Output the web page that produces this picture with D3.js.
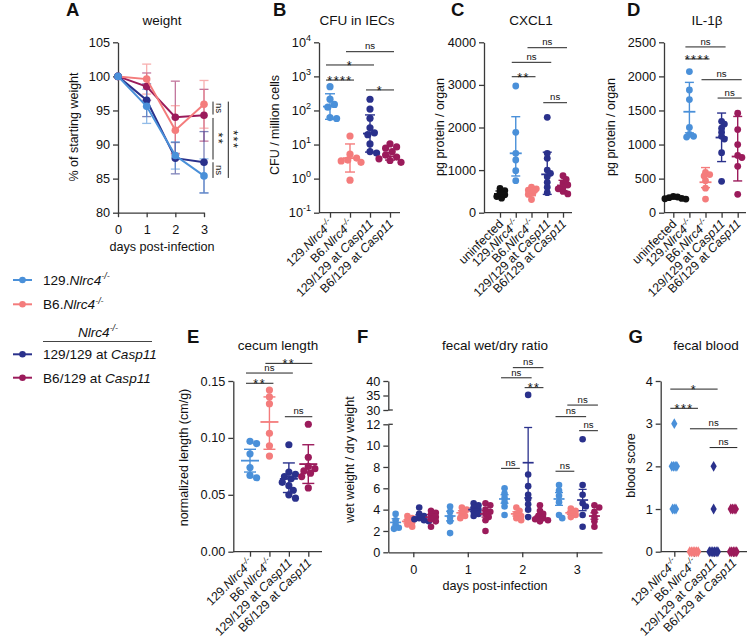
<!DOCTYPE html>
<html><head><meta charset="utf-8">
<script src="https://cdn.jsdelivr.net/npm/d3@7/dist/d3.min.js"></script>
<style>
html,body{margin:0;padding:0;background:#fff;}
svg text{font-family:Arial,"Liberation Sans",Helvetica,sans-serif;fill:#111;}
</style></head><body>
<svg id="fig" width="749" height="644" xmlns="http://www.w3.org/2000/svg"></svg>
<script>
// ================= DATA =================
const groupLabels = ["129.Nlrc4-/-", "B6.Nlrc4-/-", "129/129 at Casp11", "B6/129 at Casp11"];
const cytoLabels = ["uninfected", "129.Nlrc4-/-", "B6.Nlrc4-/-", "129/129 at Casp11", "B6/129 at Casp11"];
const groupColors = ["#4a90d9", "#f47c7c", "#2a318c", "#9b1b5b"];
const cytoColors = ["#111111", "#4a90d9", "#f47c7c", "#2a318c", "#9b1b5b"];

// A: weight (% of starting weight), mean and error per day
const weightDays = [0, 1, 2, 3];
const weight129 = [100, 95.6, 88.4, 85.4];
const weightB6 = [100, 99.6, 92.1, 95.9];
const weight129129 = [100, 96.5, 88.0, 87.4];
const weightB6129 = [100, 98.5, 94.0, 94.3];
const weightErr129 = [0, 2.5, 2.0, 2.5];
const weightErrB6 = [0, 2.2, 3.6, 3.5];
const weightErr129129 = [0, 2.4, 2.3, 4.5];
const weightErrB6129 = [0, 2.0, 5.3, 3.8];
const weightTicks = [80, 85, 90, 95, 100, 105];
const weightSig = [[96.3, 94.4, "ns"], [93.9, 87.8, "**"], [87.4, 85.1, "ns"], [96.3, 85.1, "***"]];

// B: CFU in IECs
const cfu129 = [500, 215, 150, 125, 62, 58];
const cfuB6 = [17.8, 5.2, 4.0, 3.5, 3.3, 3.0, 0.9];
const cfu129129 = [213, 110, 59, 31, 22, 19.5, 10.4, 6.2, 5.6];
const cfuB6129 = [10.4, 8.5, 7.8, 6.2, 4.9, 4.3, 3.8, 3.4, 3.0];
const cfuCenter = [130, 4.0, 21, 4.5];
const cfuLow = [55, 1.56, 6, 3.5];
const cfuHigh = [309, 10.4, 74, 5.8];
const cfuTicks = [0.1, 1, 10, 100, 1000, 10000];
const cfuSig = [[0, 1, "****", 780], [0, 2, "*", 2160], [1, 3, "ns", 5300], [2, 3, "*", 400]];

// C: CXCL1
const cxclUninf = [570, 520, 470, 420, 380, 340];
const cxcl129 = [2974, 1887, 1394, 1237, 986, 751];
const cxclB6 = [600, 560, 530, 470, 430, 310];
const cxcl129129 = [2240, 1394, 1277, 1000, 925, 845, 714, 600, 470];
const cxclB6129 = [870, 780, 700, 650, 600, 560, 500, 440];
const cxclCenter = [440, 1394, 480, 900, 640];
const cxclLow = [370, 862, 400, 430, 520];
const cxclHigh = [510, 2254, 570, 1420, 760];
const cxclTicks = [0, 1000, 2000, 3000, 4000];
const cxclSig = [[1, 2, "**", 3192], [1, 3, "ns", 3530], [2, 4, "ns", 3873], [3, 4, "ns", 2582]];

// D: IL-1beta
const il1Uninf = [240, 230, 220, 210, 205, 200];
const il1129 = [2070, 1800, 1660, 1250, 1150, 1120, 1110];
const il1B6 = [590, 560, 540, 470, 360, 200];
const il1129129 = [1340, 1300, 1240, 1180, 1120, 1080, 880, 460];
const il1B6129 = [1460, 1220, 1000, 840, 810, 680, 270];
const il1Center = [220, 1481, 447, 1103, 824];
const il1Low = [200, 1172, 368, 750, 466];
const il1High = [240, 1912, 662, 1462, 1412];
const il1Ticks = [0, 500, 1000, 1500, 2000, 2500];
const il1Sig = [[1, 3, "ns", 2432], [1, 2, "****", 2256], [2, 4, "ns", 1951], [3, 4, "ns", 1682]];

// E: cecum length
const cecum129 = [0.097, 0.095, 0.086, 0.074, 0.067, 0.065];
const cecumB6 = [0.142, 0.136, 0.130, 0.104, 0.093, 0.084];
const cecum129129 = [0.094, 0.070, 0.068, 0.066, 0.064, 0.061, 0.058, 0.054, 0.050, 0.047];
const cecumB6129 = [0.112, 0.083, 0.075, 0.073, 0.071, 0.069, 0.066, 0.056];
const cecumCenter = [0.080, 0.114, 0.064, 0.077];
const cecumLow = [0.070, 0.090, 0.052, 0.060];
const cecumHigh = [0.090, 0.136, 0.078, 0.094];
const cecumTicks = [0, 0.05, 0.10, 0.15];
const cecumSig = [[0, 1, "**", 0.148], [0, 2, "ns", 0.157], [1, 3, "**", 0.1655], [2, 3, "ns", 0.1186]];

// F: fecal wet/dry ratio, per day: [129, B6, 129/129, B6/129]
const fecalDays = [0, 1, 2, 3];
const fecalDay0 = [[3.6, 3.0, 2.6, 2.3, 2.2], [3.4, 3.2, 3.0, 2.8, 2.6, 2.4], [4.2, 3.6, 3.4, 3.2, 3.1, 3.0, 2.9], [3.9, 3.7, 3.5, 3.3, 3.1, 2.9, 2.4]];
const fecalDay1 = [[4.3, 3.8, 3.3, 2.9, 1.8], [4.2, 4.0, 3.7, 3.4, 3.2], [4.6, 4.4, 4.2, 4.0, 3.8, 3.6, 3.4], [4.6, 4.4, 4.0, 3.8, 3.6, 3.3, 3.0, 2.0]];
const fecalDay2 = [[6.0, 5.5, 5.1, 4.7, 4.3, 3.5], [4.2, 3.9, 3.6, 3.4, 3.2, 3.0], [35.2, 7.3, 6.2, 5.4, 5.0, 4.5, 4.0, 3.3], [4.4, 3.9, 3.6, 3.4, 3.2, 3.1, 3.0, 2.9]];
const fecalDay3 = [[6.3, 5.8, 5.3, 4.7, 3.5, 3.2], [4.1, 3.9, 3.7, 3.5, 3.3], [10.6, 6.3, 5.4, 4.6, 4.3, 3.5, 2.4], [4.4, 4.2, 3.8, 3.3, 2.9, 2.4]];
const fecalCenter = [[2.8, 2.9, 3.3, 3.3], [3.4, 3.7, 4.0, 3.6], [5.0, 3.6, 8.4, 3.4], [5.0, 3.7, 4.9, 3.4]];
const fecalErr = [[0.35, 0.15, 0.2, 0.25], [0.45, 0.2, 0.15, 0.3], [0.4, 0.2, 3.3, 0.2], [0.6, 0.15, 1.0, 0.3]];
const fecalTicksLow = [0, 2, 4, 6, 8, 10, 12];
const fecalTicksHigh = [30, 35, 40];
// [day, groupA, groupB, label, level]
const fecalSig = [[2, 0, 1, "ns", 7.87], [2, 0, 2, "ns", 41.1], [2, 1, 3, "ns", 44.6], [2, 2, 3, "**", 37.7],
                  [3, 0, 1, "ns", 7.6], [3, 0, 2, "ns", 27.7], [3, 1, 3, "ns", 31.7], [3, 2, 3, "ns", 11.4]];

// G: fecal blood score
const blood129 = [3, 2, 2, 2, 2, 1, 1, 1];
const bloodB6 = [0, 0, 0, 0, 0, 0];
const blood129129 = [2, 1, 0, 0, 0, 0, 0, 0];
const bloodB6129 = [1, 1, 1, 1, 0, 0, 0, 0, 0];
const bloodTicks = [0, 1, 2, 3, 4];
const bloodSig = [[0, 2, "*", 3.81], [0, 1, "***", 3.36], [1, 3, "ns", 2.88], [2, 3, "ns", 2.44]];

// ================= DRAWING =================
const svg = d3.select("#fig");
const AXC = "#3a3a3a";
const TICKFS = 12.7;

function rich(t, str, fs) {
  const parts = str.split(/(Nlrc4|Casp11|-\/-)/).filter(s => s.length);
  let shift = 0;
  parts.forEach(p => {
    const s = t.append("tspan").text(p);
    if (p === "Nlrc4" || p === "Casp11" || p === "-/-") s.attr("font-style", "italic");
    if (p === "-/-") { s.attr("font-size", fs * 0.66).attr("dy", -fs * 0.42); shift = fs * 0.42; }
    else if (shift) { s.attr("dy", shift); shift = 0; }
  });
}
function styleAxis(g) {
  g.selectAll("path, line").attr("stroke", AXC).attr("stroke-width", 1.3);
  g.selectAll("text").attr("font-size", TICKFS).attr("fill", "#111");
}
function letter(L, x, y) {
  svg.append("text").attr("x", x).attr("y", y).attr("font-size", 18.5).attr("font-weight", "bold").text(L);
}
function title(t, x, y) {
  svg.append("text").attr("x", x).attr("y", y).attr("text-anchor", "middle").attr("font-size", 13.5).text(t);
}
function ylabel(t, x, yc) {
  svg.append("text").attr("transform", `translate(${x},${yc}) rotate(-90)`).attr("text-anchor", "middle").attr("font-size", 12.5).text(t);
}
function bracket(x1, x2, yy, lab, ext) {
  ext = ext === undefined ? 4 : ext;
  svg.append("line").attr("x1", x1 - ext).attr("x2", x2 + ext).attr("y1", yy).attr("y2", yy)
    .attr("stroke", "#222").attr("stroke-width", 1);
  const stars = lab.indexOf("*") >= 0;
  svg.append("text").attr("x", (x1 + x2) / 2).attr("y", stars ? yy + 4.8 : yy - 2.3)
    .attr("text-anchor", "middle").attr("font-size", stars ? 12.5 : 9.6)
    .attr("letter-spacing", stars ? 1.5 : 0).text(lab);
}
function swarm(values, yf, cx, minDist, step) {
  const placed = [];
  const arr = values.map(v => ({ v: v, y: yf(v) })).sort((a, b) => a.y - b.y);
  arr.forEach(p => {
    for (let k = 0; k < 60; k++) {
      const off = k === 0 ? 0 : (k % 2 ? 1 : -1) * Math.ceil(k / 2) * step;
      const xx = cx + off;
      if (placed.every(q => Math.hypot(q.x - xx, q.y - p.y) >= minDist)) { p.x = xx; break; }
    }
    if (p.x === undefined) p.x = cx;
    placed.push(p);
  });
  return placed;
}
function stack(values, yf, cx, sp) {
  const out = [];
  const byVal = d3.group(values, v => v);
  byVal.forEach((arr, v) => {
    arr.forEach((vv, k) => out.push({ v: vv, y: yf(vv), x: cx + (k - (arr.length - 1) / 2) * sp }));
  });
  return out;
}
function errorBar(cx, yc, ylo, yhi, col, meanHW, capHW, w) {
  const g = svg.append("g").attr("stroke", col).attr("stroke-width", w || 1.4);
  g.append("line").attr("x1", cx).attr("x2", cx).attr("y1", ylo).attr("y2", yhi);
  g.append("line").attr("x1", cx - capHW).attr("x2", cx + capHW).attr("y1", ylo).attr("y2", ylo);
  g.append("line").attr("x1", cx - capHW).attr("x2", cx + capHW).attr("y1", yhi).attr("y2", yhi);
  g.append("line").attr("x1", cx - meanHW).attr("x2", cx + meanHW).attr("y1", yc).attr("y2", yc).attr("stroke-width", (w || 1.4) + 0.4);
}

function dotPanel(o) {
  const x = d3.scalePoint().domain(o.cats).range(o.catRange);
  const y = o.y;
  const yb = y.range()[0];
  const ya = d3.axisLeft(y).tickValues(o.ticks).tickSize(5).tickPadding(3).tickSizeOuter(0);
  if (o.fmt) ya.tickFormat(o.fmt);
  const gy = svg.append("g").attr("transform", `translate(${o.axisX},0)`).call(ya);
  styleAxis(gy);
  if (o.log) {
    gy.selectAll(".tick text").each(function (d) {
      const t = d3.select(this); t.text("10");
      t.append("tspan").attr("font-size", 9).attr("dy", -6).text(String(Math.round(Math.log10(d))));
    });
  }
  svg.append("line").attr("x1", o.axisX).attr("x2", o.axisEnd).attr("y1", yb).attr("y2", yb)
    .attr("stroke", AXC).attr("stroke-width", 1.3);
  const gx = svg.append("g").attr("transform", `translate(0,${yb})`)
    .call(d3.axisBottom(x).tickSize(5).tickFormat(""));
  gx.select(".domain").remove();
  styleAxis(gx);
  o.cats.forEach(c => {
    const t = svg.append("text").attr("transform", `translate(${x(c) + 4},${yb + 12}) rotate(-45)`)
      .attr("text-anchor", "end").attr("font-size", 12.3);
    rich(t, c, 12.3);
  });
  o.cats.forEach((c, i) => {
    const cx = x(c), col = o.colors[i];
    const pts = o.stack ? stack(o.points[i], y, cx, o.stack)
      : swarm(o.points[i], y, cx, o.minDist || 6.5, o.step || 2.5);
    if (o.diamond) {
      svg.append("g").selectAll("path").data(pts).join("path")
        .attr("transform", d => `translate(${d.x},${d.y})`)
        .attr("d", d3.symbol(d3.symbolDiamond, 34)).attr("fill", col);
    } else {
      svg.append("g").selectAll("circle").data(pts).join("circle")
        .attr("cx", d => d.x).attr("cy", d => d.y).attr("r", o.r || 3.6).attr("fill", col);
    }
    if (o.centers) errorBar(cx, y(o.centers[i]), y(o.lows[i]), y(o.highs[i]), col, o.meanHW || 7, o.capHW || 5);
  });
  o.sig.forEach(s => bracket(x(o.cats[s[0]]), x(o.cats[s[1]]), y(s[3]), s[2]));
  letter(o.letter[0], o.letter[1], o.letter[2]);
  title(o.title[0], o.title[1], o.title[2]);
  ylabel(o.ylab[0], o.ylab[1], o.ylab[2]);
}

// ---------- Panel A ----------
(function () {
  const x = d3.scaleLinear().domain([0, 3]).range([118, 204]);
  const y = d3.scaleLinear().domain([80, 105]).range([212.7, 42.3]);
  const gy = svg.append("g").attr("transform", "translate(118,0)")
    .call(d3.axisLeft(y).tickValues(weightTicks).tickSize(5).tickPadding(3).tickSizeOuter(0));
  styleAxis(gy);
  const gx = svg.append("g").attr("transform", "translate(0,212.7)")
    .call(d3.axisBottom(x).tickValues(weightDays).tickFormat(d3.format("d")).tickSize(4.5).tickPadding(8).tickSizeOuter(0));
  styleAxis(gx);
  const means = [weight129, weightB6, weight129129, weightB6129];
  const errs = [weightErr129, weightErrB6, weightErr129129, weightErrB6129];
  const order = [3, 1, 2, 0];
  order.forEach(i => {
    const col = groupColors[i];
    weightDays.forEach((d, k) => {
      if (errs[i][k] > 0) {
        const g = svg.append("g").attr("stroke", col).attr("stroke-width", 1.3).attr("opacity", 0.6);
        const cx = x(d), lo = y(means[i][k] - errs[i][k]), hi = y(means[i][k] + errs[i][k]);
        g.append("line").attr("x1", cx).attr("x2", cx).attr("y1", lo).attr("y2", hi);
        g.append("line").attr("x1", cx - 4.5).attr("x2", cx + 4.5).attr("y1", lo).attr("y2", lo);
        g.append("line").attr("x1", cx - 4.5).attr("x2", cx + 4.5).attr("y1", hi).attr("y2", hi);
      }
    });
  });
  order.forEach(i => {
    const col = groupColors[i];
    const line = d3.line().x((d, k) => x(weightDays[k])).y(d => y(d));
    svg.append("path").attr("d", line(means[i])).attr("fill", "none").attr("stroke", col).attr("stroke-width", 2);
    svg.append("g").selectAll("circle").data(means[i]).join("circle")
      .attr("cx", (d, k) => x(weightDays[k])).attr("cy", d => y(d)).attr("r", 3.8).attr("fill", col);
  });
  weightSig.forEach((s, k) => {
    const lx = k === 3 ? 228.3 : 213;
    svg.append("line").attr("x1", lx).attr("x2", lx).attr("y1", y(s[0])).attr("y2", y(s[1]))
      .attr("stroke", "#222").attr("stroke-width", 1);
    const stars = s[2].indexOf("*") >= 0;
    const ym = (y(s[0]) + y(s[1])) / 2;
    svg.append("text").attr("transform", `translate(${lx + (stars ? 0.5 : 3)},${ym}) rotate(90)`)
      .attr("text-anchor", "middle").attr("font-size", stars ? 12.5 : 9.6)
      .attr("letter-spacing", stars ? 1.5 : 0).text(s[2]);
  });
  letter("A", 66, 16);
  title("weight", 162, 24.5);
  ylabel("% of starting weight", 78, 127);
  svg.append("text").attr("x", 162).attr("y", 251).attr("text-anchor", "middle").attr("font-size", 12.6).text("days post-infection");
})();

// ---------- Panel B ----------
dotPanel({
  cats: groupLabels, colors: groupColors, catRange: [330, 390], axisX: 319, axisEnd: 400,
  y: d3.scaleLog().domain([0.1, 10000]).range([212.7, 42.3]), ticks: cfuTicks, log: true,
  points: [cfu129, cfuB6, cfu129129, cfuB6129], centers: cfuCenter, lows: cfuLow, highs: cfuHigh,
  sig: cfuSig, letter: ["B", 273, 16], title: ["CFU in IECs", 357, 24.5], ylab: ["CFU / million cells", 278.5, 125],
  minDist: 6, step: 2.2
});

// ---------- Panel C ----------
dotPanel({
  cats: cytoLabels, colors: cytoColors, catRange: [500, 563], axisX: 484, axisEnd: 572,
  y: d3.scaleLinear().domain([0, 4000]).range([212.7, 42.3]), ticks: cxclTicks, fmt: d3.format("d"),
  points: [cxclUninf, cxcl129, cxclB6, cxcl129129, cxclB6129], centers: cxclCenter, lows: cxclLow, highs: cxclHigh,
  sig: cxclSig, letter: ["C", 451, 16], title: ["CXCL1", 531, 24.5], ylab: ["pg protein / organ", 443.5, 127],
  meanHW: 6, capHW: 4.5, minDist: 4.2, step: 1.6, r: 3.4
});

// ---------- Panel D ----------
dotPanel({
  cats: cytoLabels, colors: cytoColors, catRange: [673.3, 737.7], axisX: 664, axisEnd: 746,
  y: d3.scaleLinear().domain([0, 2500]).range([212.7, 42.3]), ticks: il1Ticks, fmt: d3.format("d"),
  points: [il1Uninf, il1129, il1B6, il1129129, il1B6129], centers: il1Center, lows: il1Low, highs: il1High,
  sig: il1Sig, letter: ["D", 627, 16], title: ["IL-1β", 707, 24.5], ylab: ["pg protein / organ", 614.5, 127],
  meanHW: 6, capHW: 4.5, minDist: 3.6, step: 1.4, r: 3.4
});

// ---------- Panel E ----------
dotPanel({
  cats: groupLabels, colors: groupColors, catRange: [250, 308.3], axisX: 233.3, axisEnd: 322,
  y: d3.scaleLinear().domain([0, 0.15]).range([551.7, 381]), ticks: cecumTicks, fmt: d3.format(".2f"),
  points: [cecum129, cecumB6, cecum129129, cecumB6129], centers: cecumCenter, lows: cecumLow, highs: cecumHigh,
  sig: cecumSig, letter: ["E", 187, 342.7], title: ["cecum length", 278, 349.5], ylab: ["normalized length (cm/g)", 188, 457.5],
  meanHW: 9, capHW: 6, minDist: 6, step: 2.2
});

// ---------- Panel F ----------
(function () {
  const x = d3.scaleLinear().domain([-0.459, 3.464]).range([388.3, 602]);
  const off = d3.scalePoint().domain(groupLabels).range([-17.7, 17.7]);
  const yLow = d3.scaleLinear().domain([0, 12]).range([552.3, 424.3]);
  const yHigh = d3.scaleLinear().domain([30, 40]).range([410, 381]);
  const y = v => (v >= 20 ? yHigh(v) : yLow(v));
  const ax = 388.3;
  const g1 = svg.append("g").attr("transform", `translate(${ax},0)`)
    .call(d3.axisLeft(yLow).tickValues(fecalTicksLow).tickSize(5).tickPadding(3).tickSizeOuter(0));
  styleAxis(g1);
  const g2 = svg.append("g").attr("transform", `translate(${ax},0)`)
    .call(d3.axisLeft(yHigh).tickValues(fecalTicksHigh).tickSize(5).tickPadding(3).tickSizeOuter(0));
  styleAxis(g2);
  [yLow(12), yHigh(30)].forEach(yy => svg.append("line").attr("x1", ax).attr("x2", ax + 4.5).attr("y1", yy).attr("y2", yy)
    .attr("stroke", AXC).attr("stroke-width", 1.3));
  const gx = svg.append("g").attr("transform", "translate(0,552.3)")
    .call(d3.axisBottom(x).tickValues(fecalDays).tickFormat(d3.format("d")).tickSize(5).tickPadding(7.5).tickSizeOuter(0));
  styleAxis(gx);
  const days = [fecalDay0, fecalDay1, fecalDay2, fecalDay3];
  days.forEach((dayData, di) => {
    dayData.forEach((vals, gi) => {
      const cx = x(fecalDays[di]) + off(groupLabels[gi]);
      const col = groupColors[gi];
      const pts = swarm(vals, y, cx, 4.0, 1.6);
      svg.append("g").selectAll("circle").data(pts).join("circle")
        .attr("cx", d => d.x).attr("cy", d => d.y).attr("r", 3.3).attr("fill", col);
      const c = fecalCenter[di][gi], e = fecalErr[di][gi];
      errorBar(cx, y(c), y(c - e), y(c + e), col, 5.5, 4, 1.3);
    });
  });
  fecalSig.forEach(s => {
    const x1 = x(fecalDays[s[0]]) + off(groupLabels[s[1]]);
    const x2 = x(fecalDays[s[0]]) + off(groupLabels[s[2]]);
    bracket(x1, x2, y(s[4]), s[3], 3.5);
  });
  letter("F", 357, 342.7);
  title("fecal wet/dry ratio", 495, 349.5);
  ylabel("wet weight / dry weight", 354, 459.5);
  svg.append("text").attr("x", 495).attr("y", 590).attr("text-anchor", "middle").attr("font-size", 12.6).text("days post-infection");
})();

// ---------- Panel G ----------
dotPanel({
  cats: groupLabels, colors: groupColors, catRange: [674.3, 733.3], axisX: 660.7, axisEnd: 747,
  y: d3.scaleLinear().domain([0, 4]).range([551.7, 381]), ticks: bloodTicks, fmt: d3.format("d"),
  points: [blood129, bloodB6, blood129129, bloodB6129], stack: 1.7, diamond: true,
  sig: bloodSig, letter: ["G", 628.5, 342.7], title: ["fecal blood", 706, 349.5], ylab: ["blood score", 634.5, 465.5]
});

// ---------- Legend ----------
(function () {
  const rows = [[0, 280], [1, 304.3], [2, 354.3], [3, 377.7]];
  rows.forEach(r => {
    const col = groupColors[r[0]];
    svg.append("line").attr("x1", 13).attr("x2", 32).attr("y1", r[1]).attr("y2", r[1]).attr("stroke", col).attr("stroke-width", 2);
    svg.append("circle").attr("cx", 22.5).attr("cy", r[1]).attr("r", 3.3).attr("fill", col);
    const t = svg.append("text").attr("x", 43).attr("y", r[1] + 5).attr("font-size", 13.6);
    rich(t, groupLabels[r[0]], 13.6);
  });
  const h = svg.append("text").attr("x", 98).attr("y", 337).attr("text-anchor", "middle").attr("font-size", 13.6);
  rich(h, "Nlrc4-/-", 13.6);
  svg.append("line").attr("x1", 43).attr("x2", 152).attr("y1", 341.5).attr("y2", 341.5).attr("stroke", "#444").attr("stroke-width", 1.2);
})();
</script>
</body></html>
